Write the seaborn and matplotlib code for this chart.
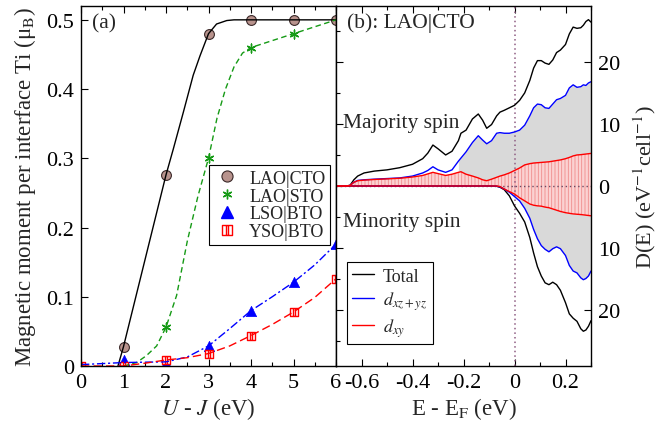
import numpy as np
import pandas as pd
import matplotlib
matplotlib.use("Agg")
import matplotlib.pyplot as plt
import seaborn as sns
from matplotlib.path import Path
from matplotlib.lines import Line2D
from matplotlib.ticker import MultipleLocator, FuncFormatter, FixedLocator

# ---------------- data: panel (a) ----------------
u_pts = [0, 1, 2, 3, 4, 5, 6]
cto_x = [1, 2, 3, 4, 5, 6]
cto_y = [0.028, 0.276, 0.48, 0.5, 0.5, 0.5]
sto_x = [1, 2, 3, 4, 5, 6]
sto_y = [0.0, 0.056, 0.30, 0.46, 0.48, 0.50]
lso_x = [1, 2, 3, 4, 5, 6]
lso_y = [0.008, 0.005, 0.029, 0.080, 0.121, 0.176]
yso_x = [0, 1, 2, 3, 4, 5, 6]
yso_y = [0.0, 0.0, 0.0087, 0.018, 0.044, 0.078, 0.126]

# smooth fitted curves
cto_cx = [0.87, 1.0, 1.25, 1.5, 1.75, 2.0, 2.17, 2.41, 2.64, 2.8, 3.0, 3.19, 3.43, 3.6, 4.0, 5.0, 6.0]
cto_cy = [0.0, 0.028, 0.09, 0.152, 0.214, 0.276, 0.313, 0.367, 0.42, 0.448, 0.48, 0.494, 0.499, 0.5, 0.5, 0.5, 0.5]
sto_cx = [1.0, 1.07, 1.31, 1.54, 1.78, 2.0, 2.25, 2.5, 2.75, 3.0, 3.2, 3.4, 3.6, 3.8, 4.0, 5.0, 6.0]
sto_cy = [0.0, 0.001, 0.005, 0.015, 0.029, 0.056, 0.102, 0.18, 0.245, 0.30, 0.358, 0.40, 0.432, 0.452, 0.46, 0.48, 0.50]
lso_cx = [0, 1, 2, 2.5, 3, 3.5, 4, 4.5, 5, 5.5, 6]
lso_cy = [0.002, 0.005, 0.006, 0.013, 0.029, 0.054, 0.080, 0.100, 0.121, 0.146, 0.176]
yso_cx = [0, 1, 1.5, 2, 2.5, 3, 3.5, 4, 4.5, 5, 5.5, 6]
yso_cy = [0.0, 0.0, 0.004, 0.0087, 0.012, 0.018, 0.029, 0.044, 0.060, 0.078, 0.099, 0.126]

# ---------------- data: panel (b) DOS ----------------
energy = [-0.70, -0.66, -0.645, -0.63, -0.615, -0.59, -0.55, -0.50, -0.45, -0.40,
          -0.36, -0.34, -0.32, -0.30, -0.27, -0.245, -0.22, -0.21, -0.19, -0.165,
          -0.142, -0.125, -0.109, -0.09, -0.07, -0.057, -0.04, -0.02, 0.0, 0.02,
          0.04, 0.06, 0.075, 0.09, 0.105, 0.12, 0.135, 0.15, 0.165, 0.18,
          0.20, 0.215, 0.23, 0.245, 0.26, 0.27, 0.28, 0.29, 0.30]
total_up = [0, 0, 0.1, 1.0, 1.6, 2.1, 2.4, 2.6, 2.95, 3.5,
            4.4, 5.3, 6.6, 6.0, 5.0, 5.6, 7.3, 8.5, 9.0, 10.8,
            11.6, 10.6, 9.3, 9.9, 11.3, 11.9, 12.2, 12.6, 13.0, 13.8,
            15.0, 17.0, 19.0, 20.2, 20.2, 19.8, 19.6, 20.3, 21.5, 21.9,
            22.8, 24.5, 25.6, 25.4, 25.5, 25.9, 26.5, 26.8, 26.4]
xz_up = [0, 0, 0.1, 0.6, 0.9, 1.0, 1.1, 1.2, 1.3, 1.6,
         2.1, 2.5, 3.1, 2.6, 2.2, 2.6, 4.0, 4.5, 5.5, 7.0,
         8.1, 7.4, 6.8, 7.3, 8.5, 8.6, 8.5, 8.5, 8.7, 9.0,
         9.8, 11.3, 12.6, 13.2, 13.1, 12.6, 12.5, 13.2, 13.9, 14.1,
         14.6, 15.8, 16.3, 15.9, 16.0, 16.3, 16.2, 16.6, 16.8]
xy_up = [0, 0, 0.1, 0.6, 0.85, 0.95, 1.05, 1.15, 1.25, 1.45,
         1.7, 1.95, 2.2, 2.0, 1.7, 1.9, 2.2, 2.3, 1.9, 1.6,
         1.3, 1.0, 0.85, 1.1, 1.4, 1.6, 1.8, 2.1, 2.5, 2.9,
         3.4, 3.6, 3.7, 3.75, 3.8, 3.85, 3.9, 4.0, 4.1, 4.2,
         4.4, 4.6, 4.85, 5.0, 5.05, 5.1, 5.15, 5.2, 5.25]
total_dn = [0, 0, 0, 0, 0, 0, 0, 0, 0, 0,
            0, 0, 0, 0, 0, 0, 0, 0, 0, 0,
            0, 0, 0, 0, -0.05, -0.2, -0.6, -1.6, -3.2, -4.4,
            -5.8, -8.3, -10.8, -13.0, -14.5, -15.6, -15.9, -15.5, -15.9, -16.8,
            -18.8, -20.6, -21.3, -21.8, -23.0, -23.4, -23.2, -22.6, -21.7]
xz_dn = [0, 0, 0, 0, 0, 0, 0, 0, 0, 0,
         0, 0, 0, 0, 0, 0, 0, 0, 0, 0,
         0, 0, 0, 0, -0.03, -0.15, -0.5, -1.0, -1.7, -2.4,
         -3.6, -5.2, -7.0, -8.5, -9.6, -10.2, -10.6, -10.1, -9.8, -10.1,
         -11.2, -12.8, -13.7, -14.0, -14.8, -15.1, -14.9, -14.5, -13.7]
xy_dn = [0, 0, 0, 0, 0, 0, 0, 0, 0, 0,
         0, 0, 0, 0, 0, 0, 0, 0, 0, 0,
         0, 0, 0, 0, 0, -0.1, -0.5, -0.9, -1.3, -1.9,
         -2.4, -2.9, -3.1, -3.2, -3.25, -3.4, -3.5, -3.7, -3.9, -4.1,
         -4.3, -4.4, -4.5, -4.55, -4.6, -4.65, -4.7, -4.75, -4.8]
gray_start = -0.22

# ---------------- style ----------------
sns.set_theme(style="white")
plt.rcParams["font.family"] = ["Liberation Serif", "DejaVu Serif"]
plt.rcParams["mathtext.fontset"] = "stix"
plt.rcParams["axes.unicode_minus"] = False
plt.rcParams["hatch.linewidth"] = 0.6

FS_TICK = 16
FS_LAB = 16.5
FS_TXT = 15.5
FS_LEG = 13

fig = plt.figure(figsize=(6.59, 4.31), dpi=100)
ax1 = fig.add_axes([81 / 659, 1 - 367 / 431, 255 / 659, 360 / 431])
ax2 = fig.add_axes([336 / 659, 1 - 367 / 431, 255 / 659, 360 / 431])

# ---------------- panel (a) ----------------
sns.lineplot(x=cto_cx, y=cto_cy, ax=ax1, color="black", lw=1.0, sort=False, estimator=None)
sns.lineplot(x=sto_cx, y=sto_cy, ax=ax1, color="#159a15", lw=1.0, linestyle=(0, (4, 2.5)),
             sort=False, estimator=None)
sns.lineplot(x=lso_cx, y=lso_cy, ax=ax1, color="blue", lw=1.0, linestyle=(0, (6, 2, 1.5, 2)),
             sort=False, estimator=None)
sns.lineplot(x=yso_cx, y=yso_cy, ax=ax1, color="red", lw=1.0, linestyle=(0, (6, 3)),
             sort=False, estimator=None)

sq_path = Path([(-1, -1), (1, -1), (1, 1), (-1, 1), (-1, -1),
                (-0.33, -1), (-0.33, 1), (0.33, -1), (0.33, 1)],
               [Path.MOVETO, Path.LINETO, Path.LINETO, Path.LINETO, Path.CLOSEPOLY,
                Path.MOVETO, Path.LINETO, Path.MOVETO, Path.LINETO])
star_mark = (6, 2, 0)

sns.scatterplot(x=sto_x, y=sto_y, ax=ax1, marker=star_mark, s=40, color="#159a15", linewidth=1.0)
sns.scatterplot(x=lso_x, y=lso_y, ax=ax1, marker="^", s=55, color="blue", edgecolor="blue", linewidth=0.5)
sns.scatterplot(x=cto_x, y=cto_y, ax=ax1, marker="o", s=50, facecolor="#b8938d", edgecolor="#3a2828",
                linewidth=0.8)
sns.scatterplot(x=yso_x, y=yso_y, ax=ax1, marker=sq_path, s=38, facecolor="white", edgecolor="red",
                linewidth=1.0)

ax1.set_xlim(0, 6)
ax1.set_ylim(0, 0.52)
ax1.xaxis.set_major_locator(FixedLocator(u_pts))
ax1.xaxis.set_minor_locator(MultipleLocator(0.5))
ax1.yaxis.set_major_locator(MultipleLocator(0.1))
ax1.yaxis.set_major_formatter(FuncFormatter(lambda v, p: "0" if abs(v) < 1e-9 else f"{v:.1f}"))
ax1.tick_params(which="both", direction="in", top=True, bottom=True, left=True, right=False,
                labelsize=FS_TICK, pad=5, colors="black")
ax1.tick_params(which="major", length=5, width=0.8)
ax1.tick_params(which="minor", length=3, width=0.8)
ax1.set_xlabel("$U$ - $J$ (eV)", fontsize=FS_LAB, labelpad=2)
ax1.set_ylabel("Magnetic moment per interface Ti (\u03bc$_{\\rm B}$)", fontsize=FS_LAB, labelpad=6)
ax1.text(0.045, 0.952, "(a)", transform=ax1.transAxes, fontsize=FS_TXT, va="center", ha="left")

leg_handles = [
    Line2D([], [], ls="none", marker="o", ms=8, mfc="#b8938d", mec="#3a2828", mew=0.8),
    Line2D([], [], ls="none", marker=star_mark, ms=7, color="#159a15", mew=1.0),
    Line2D([], [], ls="none", marker="^", ms=8, color="blue"),
    Line2D([], [], ls="none", marker=sq_path, ms=6.5, mfc="white", mec="red", mew=1.0),
]
leg1 = ax1.legend(leg_handles, ["LAO|CTO", "LAO|STO", "LSO|BTO", "YSO|BTO"], loc="upper left",
                  bbox_to_anchor=(0.50, 0.558), fontsize=FS_LEG, frameon=True, fancybox=False,
                  edgecolor="black", framealpha=1, borderpad=0.25, labelspacing=0.05,
                  handletextpad=0.5, handlelength=1.5, borderaxespad=0)
leg1.get_frame().set_linewidth(0.8)

# ---------------- panel (b) ----------------
E = np.array(energy)
ax2.fill_between(E, xy_up, xz_up, where=E >= gray_start, color="#d9d9d9", lw=0)
ax2.fill_between(E, xy_dn, xz_dn, color="#d9d9d9", lw=0)
ax2.fill_between(E, 0, xy_up, facecolor="#fbd2d2", edgecolor="#f08c8c", hatch="|||||", lw=0)
ax2.fill_between(E, 0, xy_dn, facecolor="#fbd2d2", edgecolor="#f08c8c", hatch="|||||", lw=0)
ax2.axvline(0, color="#8e5c82", ls=(0, (1, 2)), lw=1.1)
ax2.axhline(0, color="#6a4a62", ls=(0, (1, 2)), lw=1.0)

for up, dn, col in [(total_up, total_dn, "black"), (xz_up, xz_dn, "blue"), (xy_up, xy_dn, "red")]:
    sns.lineplot(x=energy, y=up, ax=ax2, color=col, lw=1.0, sort=False, estimator=None)
    sns.lineplot(x=energy, y=dn, ax=ax2, color=col, lw=1.0, sort=False, estimator=None)

ax2.set_xlim(-0.7, 0.3)
ax2.set_ylim(-29, 29)
ax2.xaxis.set_major_locator(FixedLocator([-0.6, -0.4, -0.2, 0.0, 0.2]))
ax2.xaxis.set_minor_locator(MultipleLocator(0.1))
ax2.xaxis.set_major_formatter(FuncFormatter(lambda v, p: "0" if abs(v) < 1e-9 else f"{v:.1f}"))
ax2.yaxis.tick_right()
ax2.yaxis.set_major_locator(FixedLocator([-20, -10, 0, 10, 20]))
ax2.yaxis.set_minor_locator(MultipleLocator(5))
ax2.yaxis.set_major_formatter(FuncFormatter(lambda v, p: f"{abs(v):.0f}"))
ax2.tick_params(which="both", direction="in", top=True, bottom=True, labelsize=FS_TICK, pad=5,
                colors="black")
ax2.tick_params(axis="y", which="both", left=True, right=True, labelleft=False, labelright=True)
ax2.tick_params(which="major", length=5, width=0.8)
ax2.tick_params(which="minor", length=3, width=0.8)
ax2.tick_params(axis="y", which="minor", right=False)
ax2.set_xlabel("E - E$_{\\rm F}$ (eV)", fontsize=FS_LAB, labelpad=2)
ax2.yaxis.set_label_position("right")
ax2.set_ylabel("D(E) (eV$^{-1}$cell$^{-1}$)", fontsize=16, labelpad=8)
ax2.text(0.043, 0.956, "(b): LAO|CTO", transform=ax2.transAxes, fontsize=FS_TXT, va="center", ha="left")
ax2.text(-0.672, 10.2, "Majority spin", fontsize=FS_TXT, va="center", ha="left")
ax2.text(-0.672, -5.8, "Minority spin", fontsize=FS_TXT, va="center", ha="left")

leg2_handles = [Line2D([], [], color="black", lw=1.0), Line2D([], [], color="blue", lw=1.0),
                Line2D([], [], color="red", lw=1.0)]
leg2 = ax2.legend(leg2_handles, ["Total", "$d_{xz+yz}$", "$d_{xy}$"], loc="upper left",
                  bbox_to_anchor=(0.043, 0.288), fontsize=FS_LEG, frameon=True, fancybox=False,
                  edgecolor="black", framealpha=1, borderpad=0.3, labelspacing=0.25,
                  handletextpad=0.5, handlelength=1.2, borderaxespad=0)
leg2.get_frame().set_linewidth(0.8)

for ax in (ax1, ax2):
    for sp in ax.spines.values():
        sp.set_visible(True)
        sp.set_color("black")
        sp.set_linewidth(1.0)

fig.savefig("out.png", dpi=100)
